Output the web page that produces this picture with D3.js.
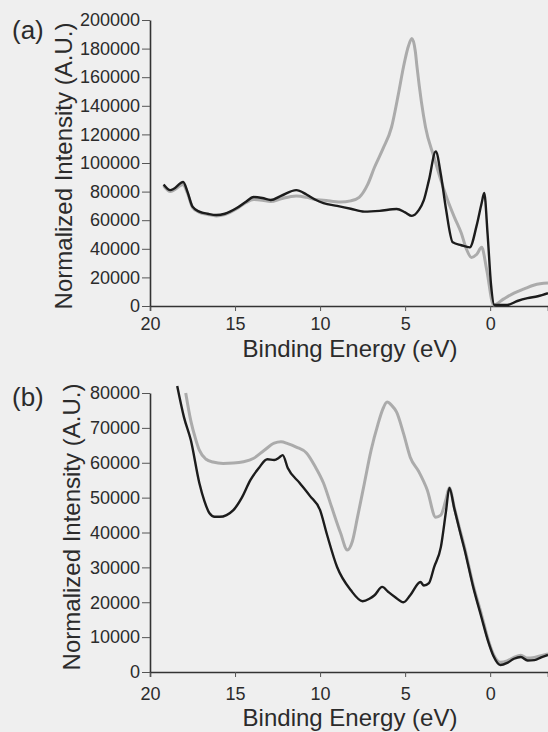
<!DOCTYPE html>
<html>
<head>
<meta charset="utf-8">
<script src="https://cdn.jsdelivr.net/npm/d3@7"></script>
<style>
  body { margin: 0; background: #efefef; }
  svg { display: block; }
  text { font-family: "Liberation Sans", Arial, sans-serif; fill: #2b2b2b; }
</style>
</head>
<body>
<svg id="chart"></svg>
<script>
// two valence band spectra, (a) and (b)

const xTicks = [20, 15, 10, 5, 0]
const aTicks = [0, 20000, 40000, 60000, 80000, 100000, 120000, 140000, 160000, 180000, 200000]
const bTicks = [0, 10000, 20000, 30000, 40000, 50000, 60000, 70000, 80000]

// panel (a) dark curve
const aDarkE = [19.2, 18.8, 18.6, 18.05, 17.8, 17.5, 17.1, 16.6, 16.1, 15.6, 14.9, 14.4, 13.9, 13.4, 12.9, 12.3, 11.4, 10.8, 10.3, 9.8, 9.0, 8.2, 7.4, 6.5, 5.5, 5.0, 4.6, 4.2, 3.9, 3.6, 3.2, 2.9, 2.6, 2.2, 1.7, 1.2, 0.8, 0.5, 0.35, 0.15, -0.05, -0.25, -1.0, -1.6, -2.2, -2.8, -3.4]
const aDarkI = [85000, 81000, 82000, 86700, 80000, 69500, 66000, 64500, 63600, 64500, 68500, 72500, 76200, 75500, 74100, 77000, 81000, 78000, 74500, 72000, 70000, 68000, 66000, 66500, 67800, 65500, 63000, 67000, 74000, 88000, 108000, 92000, 68000, 44500, 42500, 41000, 56000, 72000, 79000, 50000, 15000, 700, 700, 3500, 5500, 6800, 9000]

// panel (a) light curve
const aLightE = [19.2, 18.8, 18.6, 18.05, 17.8, 17.5, 17.1, 16.6, 16.1, 15.6, 14.9, 14.4, 13.9, 13.4, 12.9, 12.3, 11.4, 10.8, 10.3, 9.8, 8.8, 8.2, 7.7, 7.2, 6.8, 6.3, 5.8, 5.4, 5.1, 4.8, 4.6, 4.4, 4.3, 3.8, 3.3, 2.9, 2.5, 2.1, 1.7, 1.4, 1.1, 0.8, 0.5, 0.2, -0.2, -0.8, -1.4, -2.0, -2.6, -3.4]
const aLightI = [84000, 80000, 81000, 85000, 79000, 69000, 65500, 64000, 63000, 64000, 68000, 72000, 74500, 74000, 73000, 75000, 77000, 76000, 74500, 74000, 72700, 73500, 76000, 85000, 97000, 110000, 125000, 148000, 167000, 182000, 187000, 178000, 167000, 125000, 104000, 88000, 74000, 62000, 51000, 40000, 34000, 36000, 41000, 25000, 700, 5000, 9000, 12000, 14700, 16000]

// panel (b) dark curve
const bDarkE = [18.4, 18.0, 17.6, 17.1, 16.8, 16.5, 16.2, 15.9, 15.5, 15.1, 14.6, 14.1, 13.6, 13.1, 12.7, 12.4, 12.2, 11.9, 11.2, 10.6, 10.0, 9.6, 9.0, 8.2, 7.5, 7.1, 6.8, 6.35, 6.0, 5.6, 5.1, 4.7, 4.1, 3.9, 3.6, 3.3, 2.9, 2.6, 2.4, 2.1, 1.8, 1.5, 1.0, 0.53, 0.1, -0.2, -0.6, -1.0, -1.4, -1.8, -2.2, -2.6, -3.0, -3.4]
const bDarkI = [82000, 73000, 66500, 54200, 49000, 45500, 44500, 44500, 45000, 46400, 50000, 55000, 58500, 61000, 60800, 61500, 62200, 58500, 54200, 50500, 46400, 39500, 30100, 23500, 20300, 21000, 22000, 24400, 23000, 21500, 20000, 22000, 25800, 24800, 25500, 30000, 35800, 46000, 52800, 46700, 40700, 35000, 24400, 16000, 8500, 4500, 2000, 2600, 3800, 4300, 3300, 3400, 4200, 4900]

// panel (b) light curve
const bLightE = [17.9, 17.6, 17.3, 17.1, 16.7, 16.3, 15.7, 15.1, 14.5, 13.9, 13.3, 12.7, 12.3, 11.9, 11.4, 10.8, 10.3, 9.8, 9.3, 8.8, 8.4, 8.1, 7.8, 7.4, 7.0, 6.6, 6.3, 6.06, 5.8, 5.5, 5.1, 4.7, 4.2, 3.7, 3.2, 2.9, 2.6, 2.4, 2.1, 1.8, 1.5, 1.0, 0.53, 0.1, -0.2, -0.6, -1.0, -1.4, -1.8, -2.2, -2.6, -3.0, -3.4]
const bLightI = [80000, 72000, 66500, 63600, 61000, 60200, 59800, 59900, 60300, 61300, 63500, 65600, 66000, 65500, 64500, 62800, 59000, 54200, 47000, 39900, 35000, 37500, 44400, 54000, 63600, 71000, 75500, 77400, 76500, 74500, 68500, 61600, 57500, 52200, 44400, 45000, 49500, 52800, 47000, 41200, 35600, 25000, 16800, 9000, 5000, 2800, 3200, 4200, 4800, 4000, 4200, 4700, 5200]

width = 548
height = 732

const svg = d3.select("#chart")
  .attr("width", width)
  .attr("height", height)

function zip(es, is) {
  return es.map((e, i) => [e, is[i]])
}

function panel(p) {
  var x = d3.scaleLinear()
    .domain([20, -3.4])
    .range([150, 548])

  var y = d3.scaleLinear()
    .domain([0, p.yMax])
    .range([p.bottom, p.top])

  var g = svg.append("g")

  // x axis
  g.append("g")
    .attr("transform", `translate(0,${p.bottom})`)
    .call(d3.axisBottom(x).tickValues(xTicks).tickSize(5).tickPadding(6).tickFormat(d3.format("d")))
    .call(g => g.select(".domain").attr("stroke", "#333").attr("stroke-width", 1.6))
    .call(g => g.selectAll(".tick line").attr("stroke", "#555"))
    .call(g => g.selectAll(".tick text").attr("font-size", 18).attr("fill", "#333").attr("y", p.xTickDy).attr("dy", 0))

  // y axis
  g.append("g")
    .attr("transform", "translate(150,0)")
    .call(d3.axisLeft(y).tickValues(p.yTicks).tickSize(8).tickPadding(2).tickSizeOuter(0).tickFormat(d3.format("d")))
    .call(g => g.select(".domain").attr("stroke", "#333").attr("stroke-width", 1.6))
    .call(g => g.selectAll(".tick line").attr("stroke", "#555"))
    .call(g => g.selectAll(".tick text").attr("font-size", 18).attr("fill", "#333"))

  g.append("text")
    .attr("x", 350)
    .attr("y", p.titleY)
    .attr("text-anchor", "middle")
    .attr("font-size", 24)
    .text("Binding Energy (eV)")

  g.append("text")
    .attr("transform", `translate(${p.labelX},${p.labelY}) rotate(-90)`)
    .attr("text-anchor", "middle")
    .attr("font-size", 24)
    .attr("fill", "#333")
    .text("Normalized Intensity (A.U.)")

  g.append("text")
    .attr("x", 12)
    .attr("y", p.tagY)
    .attr("font-size", 26)
    .attr("fill", "#1f1f1f")
    .text(p.tag)

  var line = d3.line()
    .curve(d3.curveMonotoneX)
    .x(d => x(d[0]))
    .y(d => y(d[1]))

  g.append("path")
    .attr("fill", "none")
    .attr("stroke", "#ababab")
    .attr("stroke-width", 3)
    .attr("stroke-linejoin", "round")
    .attr("d", line(p.light))

  g.append("path")
    .attr("fill", "none")
    .attr("stroke", "#1c1c1c")
    .attr("stroke-width", 2.4)
    .attr("stroke-linejoin", "round")
    .attr("d", line(p.dark))
}

panel({
  tag: "(a)", top: 20, bottom: 306, yMax: 200000, yTicks: aTicks,
  xTickDy: 23.5, titleY: 357, labelX: 72, labelY: 166, tagY: 39,
  dark: zip(aDarkE, aDarkI), light: zip(aLightE, aLightI)
})

panel({
  tag: "(b)", top: 393, bottom: 672, yMax: 80000, yTicks: bTicks,
  xTickDy: 27.5, titleY: 726, labelX: 80, labelY: 527, tagY: 406,
  dark: zip(bDarkE, bDarkI), light: zip(bLightE, bLightI)
})
</script>
</body>
</html>
